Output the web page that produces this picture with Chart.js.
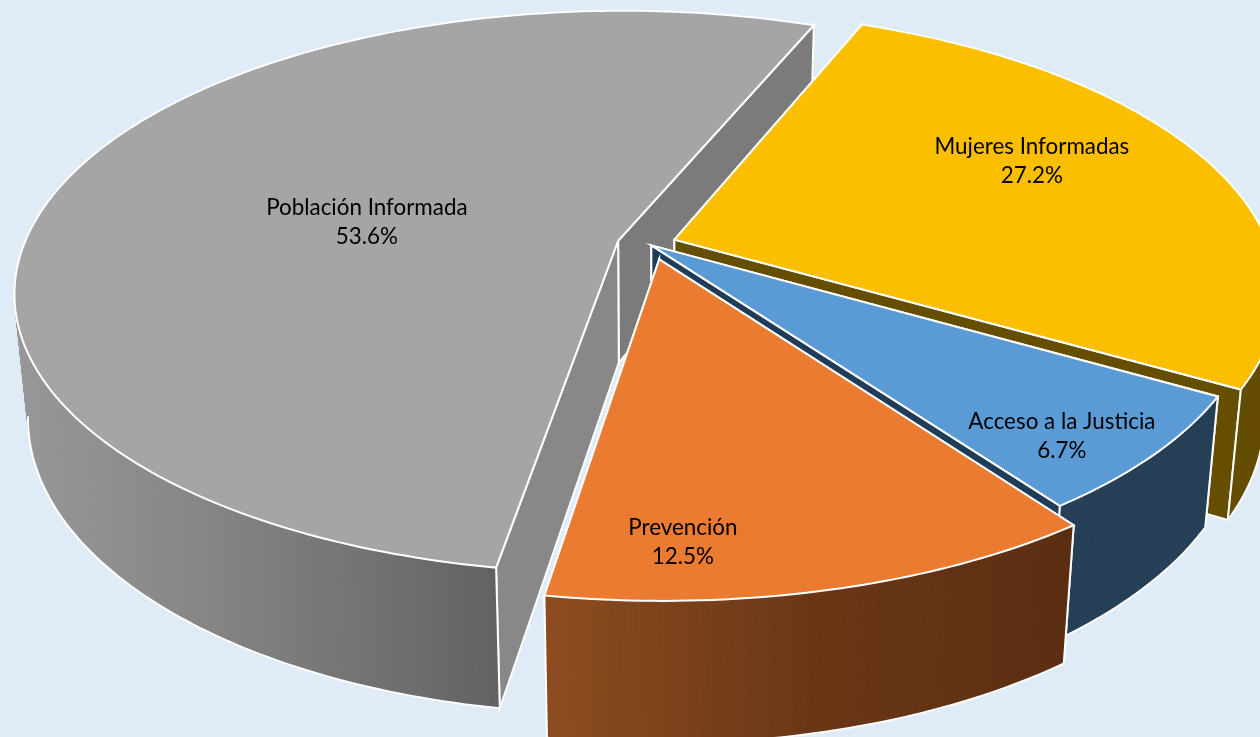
<!DOCTYPE html>
<html lang="es">
<head>
<meta charset="utf-8">
<title>Población Informada</title>
<script src="https://cdn.jsdelivr.net/npm/chart.js@4"></script>
<style>
html,body{margin:0;padding:0;background:#DFEBF7;overflow:hidden}
#wrap{width:1260px;height:737px;position:relative}
canvas{display:block}
</style>
</head>
<body>
<div id="wrap"><canvas id="c" width="1260" height="737"></canvas></div>
<script>
const categories = ["Mujeres Informadas", "Acceso a la Justicia", "Prevención", "Población Informada"];
const shares = [27.2, 6.7, 12.5, 53.6];
const topColors = ["#FBBF00", "#5B9BD5", "#EB7B30", "#A5A5A5"];

// Presentation tables (3D look), not data
const drawOrder = [3, 0, 1, 2];
const shiftU = [0.048, 0.009, 0.022, -0.047];
const shiftV = [-0.016, 0.005, 0.056, -0.012];
const labelRadius = [0.709, 0.869, 0.855, 0.436];
const labelTurnDeg = [-6.71, 3.07, 11.26, -6.27];
const sideStops = [
  [[0, "#654E00"], [1, "#624B00"]],
  [[0, "#253F56"], [1, "#253F56"]],
  [[0, "#8C4C1F"], [0.5, "#6A3716"], [1, "#5B2E12"]],
  [[0, "#979797"], [0.4, "#858585"], [1, "#626262"]]
];
const sideRange = [[1200, 1260], [1060, 1220], [550, 1070], [20, 500]];
const faceColor = ["#654E00", "#1F3C58", "#5B2E12", "#888888"];
const farFaceColor = ["#654E00", "#1F3C58", "#5B2E12", "#7B7B7B"];

const view = { cx: 646, cy: 244, rx: 594, ry: 273, p: 0.182, depth: 122, k: 0.73, vanishX: 650, lean: 0.00017 };

function project(U, V) {
  const w = 1 - view.p * V;
  return { x: view.cx + view.rx * U / w, y: view.cy + view.ry * V / w, w };
}
function dropped(U, V) {
  const t = project(U, V);
  const h = view.depth / Math.pow(t.w, view.k);
  return { x: t.x + (view.vanishX - t.x) * view.lean * h, y: t.y + h };
}
function path(ctx, pts, closed) {
  ctx.beginPath();
  pts.forEach((q, i) => i ? ctx.lineTo(q.x, q.y) : ctx.moveTo(q.x, q.y));
  if (closed !== false) ctx.closePath();
}
function paint(ctx, pts, fill) {
  path(ctx, pts);
  ctx.fillStyle = fill;
  ctx.fill();
  ctx.strokeStyle = "#FFFFFF";
  ctx.lineWidth = 2;
  ctx.lineJoin = "miter";
  ctx.stroke();
}
// Curved wall as thin strips, so the silhouette edge is filled too
function wall(ctx, rim, fill, wanted) {
  ctx.fillStyle = fill;
  ctx.strokeStyle = fill;
  ctx.lineWidth = 1;
  for (let j = 0; j < rim.length - 1; j++) {
    const a = rim[j], b = rim[j + 1];
    if (!wanted(a[2])) continue;
    path(ctx, [project(a[0], a[1]), project(b[0], b[1]), dropped(b[0], b[1]), dropped(a[0], a[1])]);
    ctx.fill();
    ctx.stroke();
  }
}

const pie3d = {
  id: "pie3d",
  beforeDatasetsDraw(chart) {
    const ctx = chart.ctx;
    const arcs = chart.getDatasetMeta(0).data;
    ctx.save();
    const isBack = s => s < -0.1;
    drawOrder.forEach(i => {
      const a = arcs[i];
      const su = shiftU[i], sv = shiftV[i];
      const rim = [];
      const n = Math.max(8, Math.ceil((a.endAngle - a.startAngle) * 60));
      for (let j = 0; j <= n; j++) {
        const t = a.startAngle + (a.endAngle - a.startAngle) * j / n;
        rim.push([su + Math.cos(t), sv + Math.sin(t), Math.sin(t)]);
      }
      const g = ctx.createLinearGradient(sideRange[i][0], 0, sideRange[i][1], 0);
      sideStops[i].forEach(s => g.addColorStop(s[0], s[1]));
      // back part of the wall
      wall(ctx, rim, g, isBack);
      // radial faces, farther one first
      const ends = [rim[0], rim[n]].sort((p, q) => p[1] - q[1]);
      ends.forEach((e, k) => {
        paint(ctx, [project(su, sv), project(e[0], e[1]), dropped(e[0], e[1]), dropped(su, sv)],
          k === 0 ? farFaceColor[i] : faceColor[i]);
      });
      // front part of the wall and its lower edge
      wall(ctx, rim, g, s => !isBack(s));
      const front = rim.filter(q => q[2] > 0.17);
      path(ctx, front.map(q => dropped(q[0], q[1])), false);
      ctx.strokeStyle = "#FFFFFF";
      ctx.lineWidth = 2;
      ctx.stroke();
      [rim[0], rim[n]].forEach(e => {
        if (isBack(e[2])) return;
        path(ctx, [project(e[0], e[1]), dropped(e[0], e[1])], false);
        ctx.stroke();
      });
      // top face
      const top = [project(su, sv)].concat(rim.map(q => project(q[0], q[1])));
      paint(ctx, top, a.options.backgroundColor);
    });
    // labels
    ctx.fillStyle = "#000000";
    ctx.font = "22.4px Lato, Carlito, sans-serif";
    ctx.textAlign = "center";
    ctx.textBaseline = "middle";
    arcs.forEach((a, i) => {
      const mid = (a.startAngle + a.endAngle) / 2 + labelTurnDeg[i] * Math.PI / 180;
      const q = project(shiftU[i] + labelRadius[i] * Math.cos(mid), shiftV[i] + labelRadius[i] * Math.sin(mid));
      ctx.fillText(categories[i], q.x, q.y - 14);
      ctx.fillText(shares[i].toFixed(1) + "%", q.x, q.y + 15);
    });
    ctx.restore();
    return false;
  }
};

new Chart(document.getElementById("c"), {
  type: "pie",
  data: {
    labels: categories,
    datasets: [{ data: shares, backgroundColor: topColors, borderColor: "#FFFFFF", borderWidth: 2 }]
  },
  options: {
    responsive: false,
    animation: false,
    rotation: 22.2,
    plugins: { legend: { display: false }, tooltip: { enabled: false } },
    layout: { padding: 0 }
  },
  plugins: [pie3d]
});
</script>
</body>
</html>
